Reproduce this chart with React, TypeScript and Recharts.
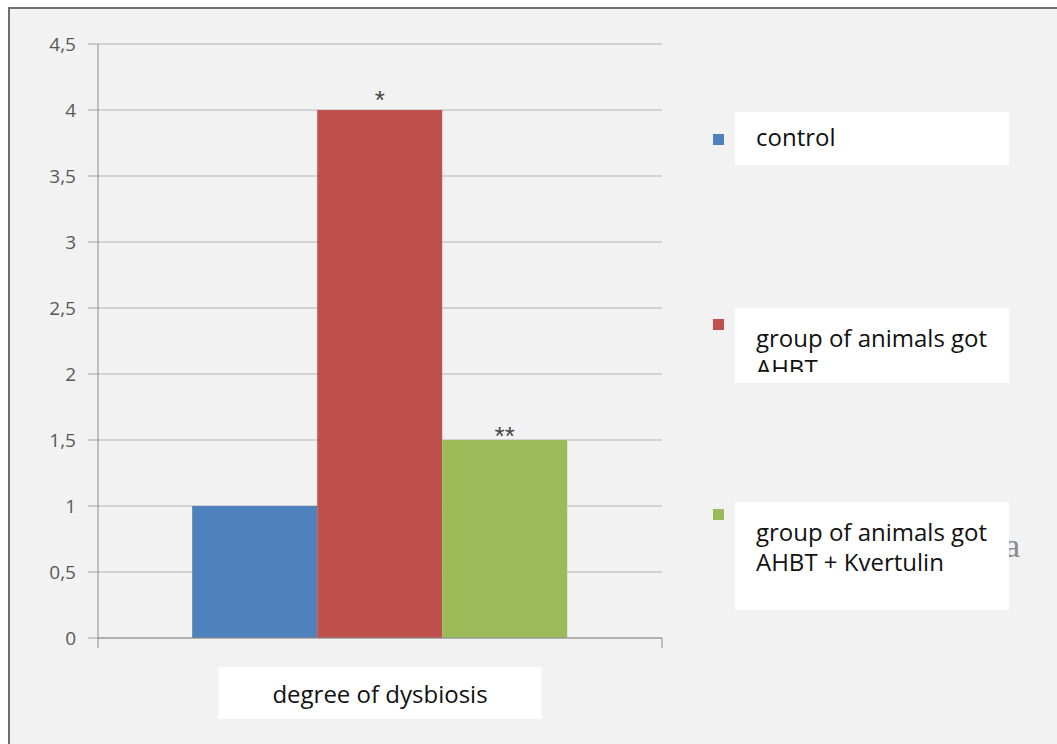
import React from 'react';
import * as Recharts from 'recharts';
import { BarChart, Bar, XAxis, YAxis, CartesianGrid, Legend, LabelList } from 'recharts';

// Chart data
const categories = ['degree of dysbiosis'];
const seriesNames = ['control', 'group of animals got AHBT', 'group of animals got AHBT + Kvertulin'];
const seriesKeys = ['control', 'ahbt', 'kvertulin'];
const seriesColors = ['#4f81bd', '#c0504d', '#9bbb59'];
const controlValues = [1];
const ahbtValues = [4];
const kvertulinValues = [1.5];
const significanceMarks = ['', '*', '**'];
const yTicks = [0, 0.5, 1, 1.5, 2, 2.5, 3, 3.5, 4, 4.5];

const data = categories.map((category, i) => ({
  category,
  control: controlValues[i],
  ahbt: ahbtValues[i],
  kvertulin: kvertulinValues[i],
}));

const W = 1057;
const H = 744;
const FONT = '"Open Sans", "Noto Sans", sans-serif';
const AXIS_COLOR = '#8c8c8c';

// Per-item placement of the legend boxes (square, white box, optional text clip)
const legendLayout: { squareTop: number; boxTop: number; boxHeight: number; textTop: number; clip?: number }[] = [
  { squareTop: 134, boxTop: 112, boxHeight: 53, textTop: 10 },
  { squareTop: 319, boxTop: 308, boxHeight: 75, textTop: 15, clip: 49 },
  { squareTop: 509, boxTop: 502, boxHeight: 108, textTop: 15 },
];

const LegendContent = (props: any) => {
  const payload = props.payload || [];
  return (
    <div style={{ position: 'relative', width: W, height: H, pointerEvents: 'none' }}>
      <div
        style={{
          position: 'absolute',
          left: 1005,
          top: 526,
          fontFamily: '"Liberation Serif", serif',
          fontSize: 34,
          color: '#8a8a8a',
          lineHeight: '40px',
        }}
      >
        a
      </div>
      {payload.map((entry: any, i: number) => {
        const l = legendLayout[i];
        const clipped = l.clip != null;
        return (
          <React.Fragment key={entry.value}>
            <div
              style={{
                position: 'absolute',
                left: 713,
                top: l.squareTop,
                width: 11,
                height: 11,
                background: entry.color,
              }}
            />
            <div
              style={{
                position: 'absolute',
                left: 735,
                top: l.boxTop,
                width: 274,
                height: l.boxHeight,
                background: '#ffffff',
              }}
            >
              <div
                style={{
                  position: 'absolute',
                  left: 21,
                  top: l.textTop,
                  width: 250,
                  height: clipped ? l.clip : undefined,
                  overflow: clipped ? 'hidden' : 'visible',
                  fontFamily: FONT,
                  fontSize: 24,
                  lineHeight: '30px',
                  color: '#111',
                  whiteSpace: 'normal',
                }}
              >
                {entry.value}
              </div>
            </div>
          </React.Fragment>
        );
      })}
    </div>
  );
};

const AxisTitle = (props: any) => {
  const vb = props.viewBox || { x: 0, y: 0, width: 0, height: 0 };
  const cx = vb.x + vb.width / 2;
  return (
    <g>
      <rect x={cx - 161.5} y={vb.y + 29} width={323} height={52} fill="#ffffff" />
      <text
        x={cx}
        y={vb.y + 65}
        textAnchor="middle"
        fontFamily={FONT}
        fontSize={24}
        fill="#111"
      >
        {categories[0]}
      </text>
    </g>
  );
};

// Tick marks at both ends of the category axis, plus the short
// extension of the value axis below zero.
const usePlotRect: () => any =
  (Recharts as any).usePlotArea ||
  (() => {
    const off = (Recharts as any).useOffset ? (Recharts as any).useOffset() : null;
    const w = (Recharts as any).useChartWidth ? (Recharts as any).useChartWidth() : null;
    const h = (Recharts as any).useChartHeight ? (Recharts as any).useChartHeight() : null;
    if (!off || w == null || h == null) return null;
    return { x: off.left, y: off.top, width: w - off.left - off.right, height: h - off.top - off.bottom };
  });

const EdgeTicks = () => {
  const area = usePlotRect();
  if (!area) return null;
  const bottom = area.y + area.height;
  const left = area.x;
  const right = area.x + area.width;
  return (
    <g>
      <line x1={left} x2={left} y1={bottom} y2={bottom + 10} stroke={AXIS_COLOR} />
      <line x1={right} x2={right} y1={bottom} y2={bottom + 10} stroke={AXIS_COLOR} />
    </g>
  );
};

export default function App() {
  return (
    <div style={{ position: 'absolute', left: 0, top: 0, width: W, height: H, background: '#ffffff' }}>
      <div
        style={{
          position: 'absolute',
          left: 8,
          top: 7,
          right: 0,
          bottom: 0,
          background: '#f2f2f2',
          borderTop: '2px solid #707070',
          borderLeft: '2px solid #6f6f6f',
        }}
      />
      <div style={{ position: 'absolute', left: 0, top: 0 }}>
        <BarChart
          width={W}
          height={H}
          data={data}
          margin={{ top: 44, right: 395, left: 38, bottom: 0 }}
          barCategoryGap="16.7%"
          barGap={0}
        >
          <CartesianGrid horizontal vertical={false} stroke="#b4b4b4" strokeWidth={1} />
          <XAxis
            dataKey="category"
            tick={false}
            tickLine={false}
            axisLine={{ stroke: AXIS_COLOR }}
            height={106}
            label={<AxisTitle />}
          />
          <YAxis
            domain={[0, 4.5]}
            ticks={yTicks}
            interval={0}
            width={60}
            tickSize={10}
            tickMargin={12}
            axisLine={{ stroke: AXIS_COLOR }}
            tickLine={{ stroke: '#a0a0a0' }}
            tick={{ fontFamily: FONT, fontSize: 19, fill: '#595959' }}
            tickFormatter={(v: number) => String(v).replace('.', ',')}
          />
          <Legend
            layout="horizontal"
            verticalAlign="middle"
            align="center"
            wrapperStyle={{ left: 0, top: 0, width: W, height: H, margin: 0, pointerEvents: 'none' }}
            content={<LegendContent />}
          />
          {seriesKeys.map((key, i) => (
            <Bar
              key={key}
              dataKey={key}
              name={seriesNames[i]}
              fill={seriesColors[i]}
              isAnimationActive={false}
            >
              {significanceMarks[i] ? (
                <LabelList
                  dataKey={key}
                  position="top"
                  offset={i === 1 ? 1 : -5}
                  formatter={() => significanceMarks[i]}
                  style={{ fontFamily: '"Liberation Sans", sans-serif', fontSize: 26, fill: '#444' }}
                />
              ) : null}
            </Bar>
          ))}
          <EdgeTicks />
        </BarChart>
      </div>
    </div>
  );
}
